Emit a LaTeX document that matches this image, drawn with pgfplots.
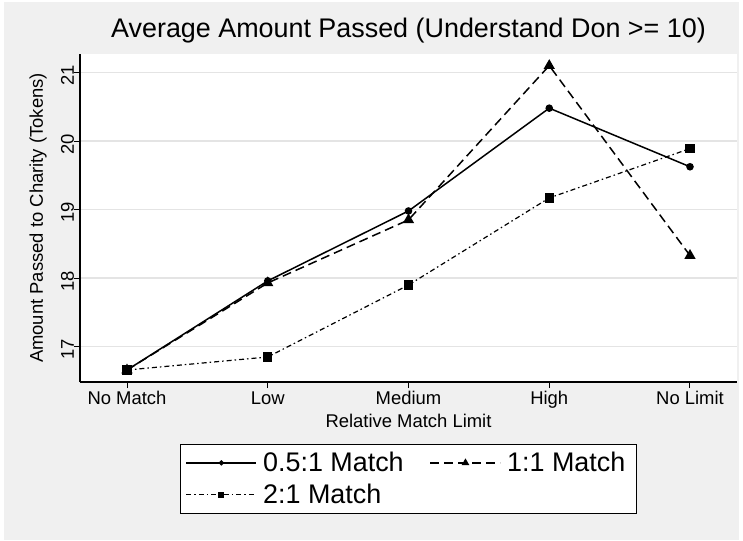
\documentclass[border=0pt]{standalone}
\usepackage{pgfplots}
\pgfplotsset{compat=1.18}
\usepackage{fontspec}
\setmainfont{Liberation Sans}
\definecolor{bggray}{RGB}{240,240,240}
\definecolor{gridgray}{RGB}{228,228,228}

\begin{document}
\begin{tikzpicture}
% page and graph region
\fill[white] (-80bp,-159bp) rectangle (663bp,382bp);
\fill[bggray] (-76bp,-158bp) rectangle (659bp,380bp);
\begin{axis}[
    at={(0,0)}, anchor=south west,
    width=657bp, height=328bp, scale only axis,
    axis background/.style={fill=white},
    xmin=-0.334, xmax=4.334, ymin=16.485, ymax=21.27,
    xtick={0,1,2,3,4},
    xticklabels={No Match,Low,Medium,High,No Limit},
    ytick={17,18,19,20,21},
    /pgf/number format/assume math mode=true,
    axis lines*=left,
    axis line style={-, line width=1.2bp},
    ymajorgrids,
    grid style={gridgray, line width=1.5bp},
    tick align=outside,
    major tick length=6bp,
    tick style={black, line width=1bp},
    ticklabel style={font=\fontsize{18.5}{20}\selectfont},
    yticklabel style={rotate=90, anchor=base, xshift=-3bp},
    label style={font=\fontsize{18.5}{20}\selectfont},
    xlabel={Relative Match Limit},
    xlabel style={at={(axis description cs:0.5,0)}, anchor=base, yshift=-45bp},
    ylabel={Amount Passed to Charity (Tokens)},
    ylabel style={at={([xshift=-37bp]axis description cs:0,0.5)}, anchor=base, rotate=0},
    title={Average Amount Passed (Understand Don >= 10)},
    title style={font=\fontsize{27}{30}\selectfont, at={(axis description cs:0.5,1)}, anchor=base, yshift=11bp},
    clip=false,
    legend columns=2,
    legend cell align=left,
    legend style={at={(0.5,-0.189)}, anchor=north, draw=black, fill=white,
        line width=0.8bp, font=\fontsize{27}{30}\selectfont,
        inner xsep=5bp, inner ysep=6bp, row sep=7bp,
        nodes={inner xsep=6bp},
        /tikz/every even column/.append style={column sep=20bp}},
    legend image code/.code={\draw[mark repeat=2,mark phase=2,every mark/.append style={scale=0.6}]
        plot coordinates {(0bp,0bp) (35bp,0bp) (70bp,0bp)};},
]
\addplot[black, line width=1.5bp, mark=*, mark size=3bp]
    coordinates {(0,16.66) (1,17.96) (2,18.98) (3,20.48) (4,19.625)};
\addlegendentry{0.5:1 Match}
\addplot[black, line width=1.5bp, dash pattern=on 9bp off 5bp, mark=triangle*, mark size=5bp, mark options={solid}]
    coordinates {(0,16.66) (1,17.93) (2,18.85) (3,21.1) (4,18.33)};
\addlegendentry{1:1 Match}
\addplot[black, line width=1.2bp, dash pattern=on 5bp off 3bp on 1.5bp off 3bp, mark=square*, mark size=4bp, mark options={solid}]
    coordinates {(0,16.66) (1,16.85) (2,17.9) (3,19.17) (4,19.89)};
\addlegendentry{2:1 Match}
\end{axis}
\end{tikzpicture}
\end{document}
